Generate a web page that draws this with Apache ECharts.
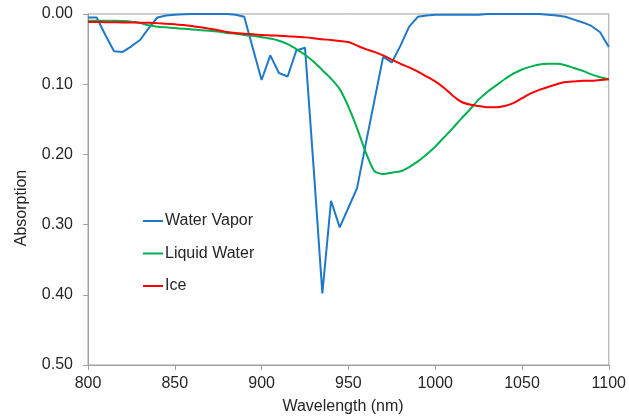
<!DOCTYPE html>
<html>
<head>
<meta charset="utf-8">
<script src="https://cdn.jsdelivr.net/npm/echarts@6/dist/echarts.min.js"></script>
<style>
  html, body { margin: 0; padding: 0; background: #fff; }
  #chart { width: 629px; height: 418px; }
</style>
</head>
<body>
<div id="chart"></div>
<script>
// Wavelength grid (nm), 5 nm steps
const wavelengths = [
  800, 805, 810, 815, 820, 825, 830, 835, 840, 845,
  850, 855, 860, 865, 870, 875, 880, 885, 890, 895,
  900, 905, 910, 915, 920, 925, 930, 935, 940, 945,
  950, 955, 960, 965, 970, 975, 980, 985, 990, 995,
  1000, 1005, 1010, 1015, 1020, 1025, 1030, 1035, 1040, 1045,
  1050, 1055, 1060, 1065, 1070, 1075, 1080, 1085, 1090, 1095,
  1100
];

const waterVapor = [
  0.005, 0.005, 0.030, 0.053, 0.054, 0.046, 0.037, 0.020, 0.005, 0.002,
  0.001, 0.0005, 0.000, 0.000, 0.000, 0.000, 0.000, 0.001, 0.004, 0.049,
  0.094, 0.059, 0.084, 0.089, 0.052, 0.048, 0.220, 0.398, 0.266, 0.304,
  0.276, 0.248, 0.185, 0.123, 0.061, 0.069, 0.045, 0.018, 0.004, 0.002,
  0.001, 0.001, 0.001, 0.001, 0.001, 0.001, 0.000, 0.000, 0.000, 0.000,
  0.000, 0.000, 0.000, 0.001, 0.002, 0.004, 0.008, 0.012, 0.017, 0.026,
  0.047
];

const liquidWater = [
  0.0095, 0.0095, 0.0095, 0.0095, 0.010, 0.011, 0.013, 0.016, 0.018, 0.019,
  0.020, 0.021, 0.022, 0.023, 0.024, 0.025, 0.027, 0.028, 0.030, 0.031,
  0.033, 0.035, 0.038, 0.043, 0.050, 0.058, 0.068, 0.080, 0.092, 0.107,
  0.132, 0.163, 0.197, 0.224, 0.228, 0.226, 0.224, 0.218, 0.210, 0.200,
  0.189, 0.176, 0.163, 0.149, 0.136, 0.122, 0.111, 0.102, 0.093, 0.085,
  0.079, 0.075, 0.072, 0.071, 0.071, 0.073, 0.077, 0.081, 0.086, 0.090,
  0.093
];

const ice = [
  0.0114, 0.0115, 0.0116, 0.0117, 0.012, 0.012, 0.0123, 0.0125, 0.013, 0.014,
  0.0147, 0.0155, 0.017, 0.019, 0.021, 0.023, 0.0255, 0.027, 0.028, 0.029,
  0.030, 0.0305, 0.031, 0.0318, 0.0325, 0.0333, 0.0345, 0.036, 0.037, 0.0385,
  0.040, 0.045, 0.050, 0.054, 0.059, 0.065, 0.071, 0.076, 0.082, 0.089,
  0.096, 0.105, 0.116, 0.125, 0.129, 0.131, 0.133, 0.133, 0.131, 0.127,
  0.120, 0.113, 0.108, 0.104, 0.100, 0.097, 0.096, 0.095, 0.095, 0.094,
  0.093
];

const seriesNames = ['Water Vapor', 'Liquid Water', 'Ice'];
const seriesColors = ['#1f78c8', '#00b050', '#ff0000'];
const seriesValues = [waterVapor, liquidWater, ice];

const FONT = '"Liberation Sans", Arial, sans-serif';
const TEXT = '#262626';
const AXIS = '#a0a0a0';

const pairs = vals => wavelengths.map((w, i) => [w, vals[i]]);

const chart = echarts.init(document.getElementById('chart'), null, { renderer: 'canvas' });

chart.setOption({
  animation: false,
  backgroundColor: '#ffffff',
  grid: {
    left: 88, right: 18, top: 14, bottom: 53,
    show: true, borderColor: AXIS, borderWidth: 1, backgroundColor: 'transparent'
  },
  legend: {
    orient: 'vertical',
    left: 138, top: 208,
    icon: 'rect',
    itemWidth: 20, itemHeight: 2,
    itemGap: 16.5,
    textStyle: { fontFamily: FONT, fontSize: 16, color: TEXT, lineHeight: 16, padding: [0, 0, 0, -3] },
    data: seriesNames
  },
  xAxis: {
    type: 'value',
    min: 800, max: 1100, interval: 50,
    axisLine: { show: true, onZero: false, lineStyle: { color: AXIS, width: 1 } },
    axisTick: { show: true, inside: false, length: 5, lineStyle: { color: AXIS } },
    splitLine: { show: false },
    axisLabel: {
      margin: 11, fontFamily: FONT, fontSize: 16, color: TEXT,
      formatter: v => String(v)
    }
  },
  yAxis: {
    type: 'value',
    inverse: true,
    min: 0, max: 0.5, interval: 0.1,
    axisLine: { show: true, onZero: false, lineStyle: { color: AXIS, width: 1 } },
    axisTick: { show: true, inside: false, length: 5, lineStyle: { color: AXIS } },
    splitLine: { show: false },
    axisLabel: {
      margin: 15, fontFamily: FONT, fontSize: 16, color: TEXT,
      formatter: v => v.toFixed(2)
    }
  },
  graphic: [
    {
      type: 'text', x: 22, y: 208, rotation: Math.PI / 2,
      style: {
        text: 'Absorption', font: '16px ' + FONT, fill: TEXT,
        textAlign: 'center', textVerticalAlign: 'middle'
      }
    },
    {
      type: 'text', x: 343, y: 407,
      style: {
        text: 'Wavelength (nm)', font: '16px ' + FONT, fill: TEXT,
        textAlign: 'center', textVerticalAlign: 'middle'
      }
    }
  ],
  series: seriesNames.map((name, k) => ({
    name: name,
    type: 'line',
    data: pairs(seriesValues[k]),
    showSymbol: false,
    smooth: k === 0 ? false : 0.2,
    itemStyle: { color: seriesColors[k] },
    lineStyle: { color: seriesColors[k], width: 2 },
    z: k === 0 ? 2 : (k === 1 ? 3 : 4)
  }))
});
</script>
</body>
</html>
